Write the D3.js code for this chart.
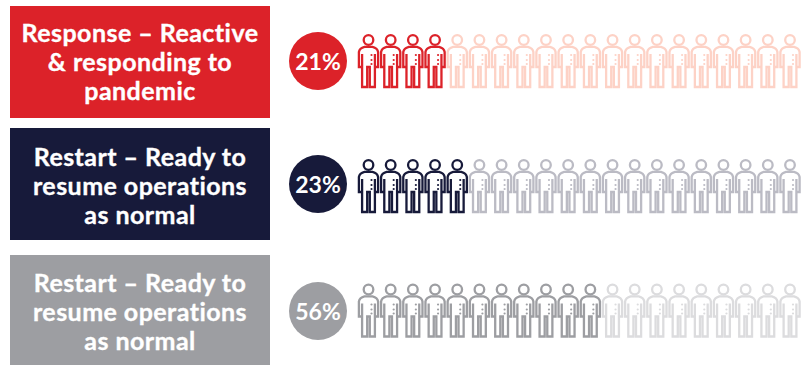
<!DOCTYPE html>
<html>
<head>
<meta charset="utf-8">
<script src="https://cdn.jsdelivr.net/npm/d3@7/dist/d3.min.js"></script>
<style>
html,body{margin:0;padding:0;background:#fff;}
svg{display:block;}
text{font-family:Lato,"Open Sans",sans-serif;}
</style>
</head>
<body>
<svg id="chart" width="810" height="365"></svg>
<script>
// Stages of pandemic recovery, share of respondents shown as 20 figures per row
const labelLines = [
  ["Response – Reactive", "& responding to", "pandemic"],
  ["Restart – Ready to", "resume operations", "as normal"],
  ["Restart – Ready to", "resume operations", "as normal"]
];
const percents = [21, 23, 56];
const filledCounts = [4, 5, 11];
const activeColors = ["#dc2229", "#171a3a", "#9d9ea2"];
const mutedColors = ["#fdd2c6", "#bbbbc4", "#dcdcde"];
const figureTotal = 20;

// Vertical layout of each row
const boxTop = [6, 128, 255];
const boxHeight = [112, 112, 110];
const firstBaseline = [42, 166, 292];
const circleY = [61, 184, 311];
const headY = [40, 165, 289.5];

const svg = d3.select("#chart");

const rowIdx = d3.range(percents.length);
const figIdx = d3.range(figureTotal);
const figX = d3.scalePoint().domain(figIdx).range([368.5, 790]);

const circleX = 318, circleR = 29, lineStep = 29;

// Outline of one standing figure, origin at the centre of the head
const bodyPath = "M-4,6.8 L4,6.8 Q9,8 9.6,12 L9.6,27 L6.4,27 L6.4,47 L1.3,47 L1.3,27 L-1.3,27 L-1.3,47 L-6.4,47 L-6.4,27 L-9.6,27 L-9.6,12 Q-9,8 -4,6.8 Z M-6.4,14 L-6.4,27 M6.4,14 L6.4,27";

const rows = svg.selectAll("g.row").data(rowIdx).join("g").attr("class", "row");

rows.append("rect")
  .attr("x", 10).attr("y", i => boxTop[i])
  .attr("width", 260).attr("height", i => boxHeight[i])
  .attr("fill", i => activeColors[i]);

rows.each(function (i) {
  const g = d3.select(this);

  g.selectAll("text.label").data(labelLines[i]).join("text")
    .attr("class", "label")
    .attr("x", 140)
    .attr("y", (d, k) => firstBaseline[i] + k * lineStep)
    .attr("text-anchor", "middle")
    .attr("fill", "#fff")
    .attr("stroke", "#fff")
    .attr("stroke-width", 0.35)
    .attr("font-size", 25)
    .attr("font-weight", 700)
    .attr("letter-spacing", 0.45)
    .text(d => d);

  g.append("circle")
    .attr("cx", circleX).attr("cy", circleY[i])
    .attr("r", circleR)
    .attr("fill", activeColors[i]);

  g.append("text")
    .attr("x", circleX).attr("y", circleY[i] + 8.5)
    .attr("text-anchor", "middle")
    .attr("fill", "#fff")
    .attr("font-size", 23)
    .attr("font-weight", 700)
    .text(percents[i] + "%");

  const figs = g.selectAll("g.fig").data(figIdx).join("g")
    .attr("class", "fig")
    .attr("transform", f => `translate(${figX(f)},${headY[i]})`)
    .attr("fill", "none")
    .attr("stroke", f => f < filledCounts[i] ? activeColors[i] : mutedColors[i])
    .attr("stroke-width", 2.3);

  figs.append("circle").attr("r", 4.8);
  figs.append("path").attr("d", bodyPath);
  figs.selectAll("circle.dot").data([15, 20, 24]).join("circle")
    .attr("class", "dot")
    .attr("cx", 3).attr("cy", d => d).attr("r", 1.1)
    .attr("stroke", "none")
    .attr("fill", function () { return d3.select(this.parentNode).attr("stroke"); });
});
</script>
</body>
</html>
